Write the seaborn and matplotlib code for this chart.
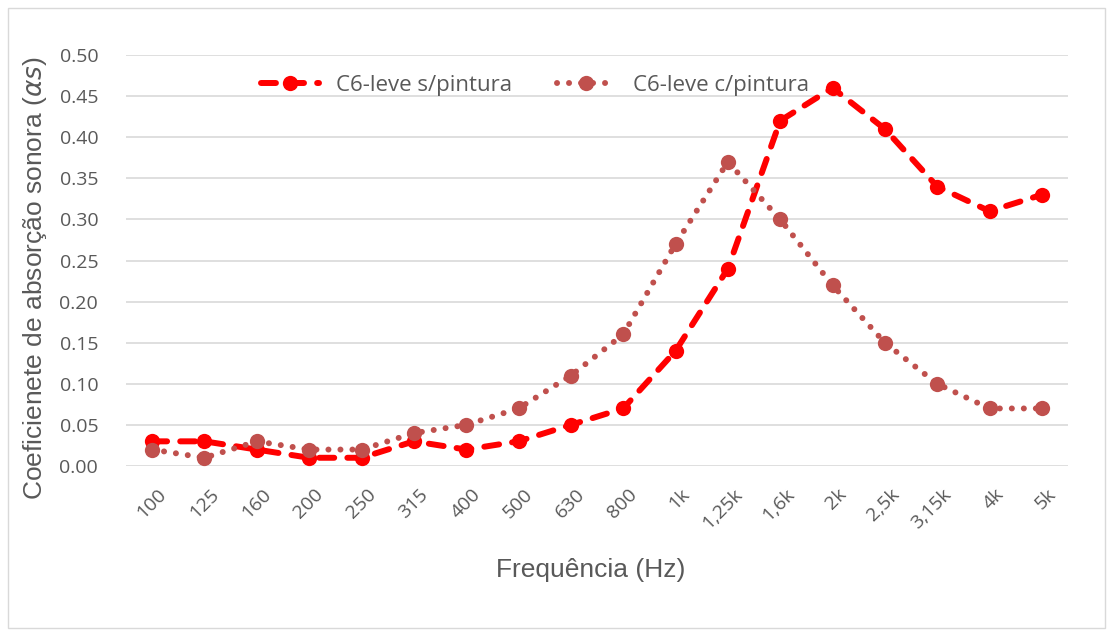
import matplotlib
matplotlib.use("Agg")
import matplotlib.pyplot as plt
import matplotlib.transforms as mtransforms
import seaborn as sns
import pandas as pd
from matplotlib.patches import Rectangle

# frequency bands and absorption coefficients
freqs = ["100", "125", "160", "200", "250", "315", "400", "500", "630", "800",
         "1k", "1,25k", "1,6k", "2k", "2,5k", "3,15k", "4k", "5k"]
sem_pintura = [0.03, 0.03, 0.02, 0.01, 0.01, 0.03, 0.02, 0.03, 0.05, 0.07,
               0.14, 0.24, 0.42, 0.46, 0.41, 0.34, 0.31, 0.33]
com_pintura = [0.02, 0.01, 0.03, 0.02, 0.02, 0.04, 0.05, 0.07, 0.11, 0.16,
               0.27, 0.37, 0.30, 0.22, 0.15, 0.10, 0.07, 0.07]
series_names = ["C6-leve s/pintura", "C6-leve c/pintura"]

sns.set_style("white")
plt.rcParams["font.family"] = ["Open Sans", "DejaVu Sans"]
grey = "#595959"
title_font = ["Liberation Sans", "DejaVu Sans"]

fig = plt.figure(figsize=(11.13, 6.36), dpi=100)
ax = fig.add_axes([0.1132, 0.2673, 0.8464, 0.6462])

df1 = pd.DataFrame({"freq": freqs, "alpha": sem_pintura})
df2 = pd.DataFrame({"freq": freqs, "alpha": com_pintura})

sns.lineplot(data=df1, x="freq", y="alpha", ax=ax, color="#FF0000", lw=4.3,
             marker="o", markersize=11, markeredgewidth=0, sort=False,
             label=series_names[0])
sns.lineplot(data=df2, x="freq", y="alpha", ax=ax, color="#C0504D", lw=4.3,
             marker="o", markersize=11, markeredgewidth=0, sort=False,
             label=series_names[1])

l1, l2 = ax.get_lines()[:2]
l1.set_dashes((2.5, 2.2))
l1.set_dash_capstyle("round")
l2.set_dashes((0.01, 2.0))
l2.set_dash_capstyle("round")

ax.set_xlim(-0.5, len(freqs) - 0.5)
ax.set_ylim(0, 0.5)
ax.set_yticks([i * 0.05 for i in range(11)])
ax.set_yticklabels([f"{i * 0.05:.2f}" for i in range(11)])
ax.set_xticks(range(len(freqs)))
ax.set_xticklabels(freqs, rotation=45, ha="right", rotation_mode="anchor")
ax.tick_params(axis="both", length=0, labelsize=14, colors=grey)
ax.tick_params(axis="x", pad=14)
ax.tick_params(axis="y", pad=20)
# nudge rotated labels a little to the right, like the original
shift = mtransforms.ScaledTranslation(5 / 100, 0, fig.dpi_scale_trans)
for lab in ax.get_xticklabels():
    lab.set_transform(lab.get_transform() + shift)
ax.grid(axis="y", color="#D9D9D9", lw=1.2)
ax.set_axisbelow(True)
for s in ax.spines.values():
    s.set_visible(False)

ax.set_xlabel("Frequência (Hz)", fontsize=19, color=grey, family=title_font)
ax.set_ylabel(r"Coeficienete de absorção sonora ($\alpha s$)", fontsize=19,
              color=grey, family=title_font)
ax.xaxis.label.set_va("center")
ax.xaxis.set_label_coords(0.4936, -0.253)
ax.yaxis.label.set_va("center")
ax.yaxis.set_label_coords(-0.0966, 0.457)

leg = ax.legend(loc="upper center", bbox_to_anchor=(0.434, 1.0), ncol=2,
                frameon=False, fontsize=16, handlelength=2.6,
                columnspacing=2.0, labelcolor=grey)

# chart area border
fig.patches.append(Rectangle((0.007, 0.012), 0.986, 0.976, transform=fig.transFigure,
                             fill=False, edgecolor="#D9D9D9", lw=1))

fig.savefig("out.png", dpi=100)
